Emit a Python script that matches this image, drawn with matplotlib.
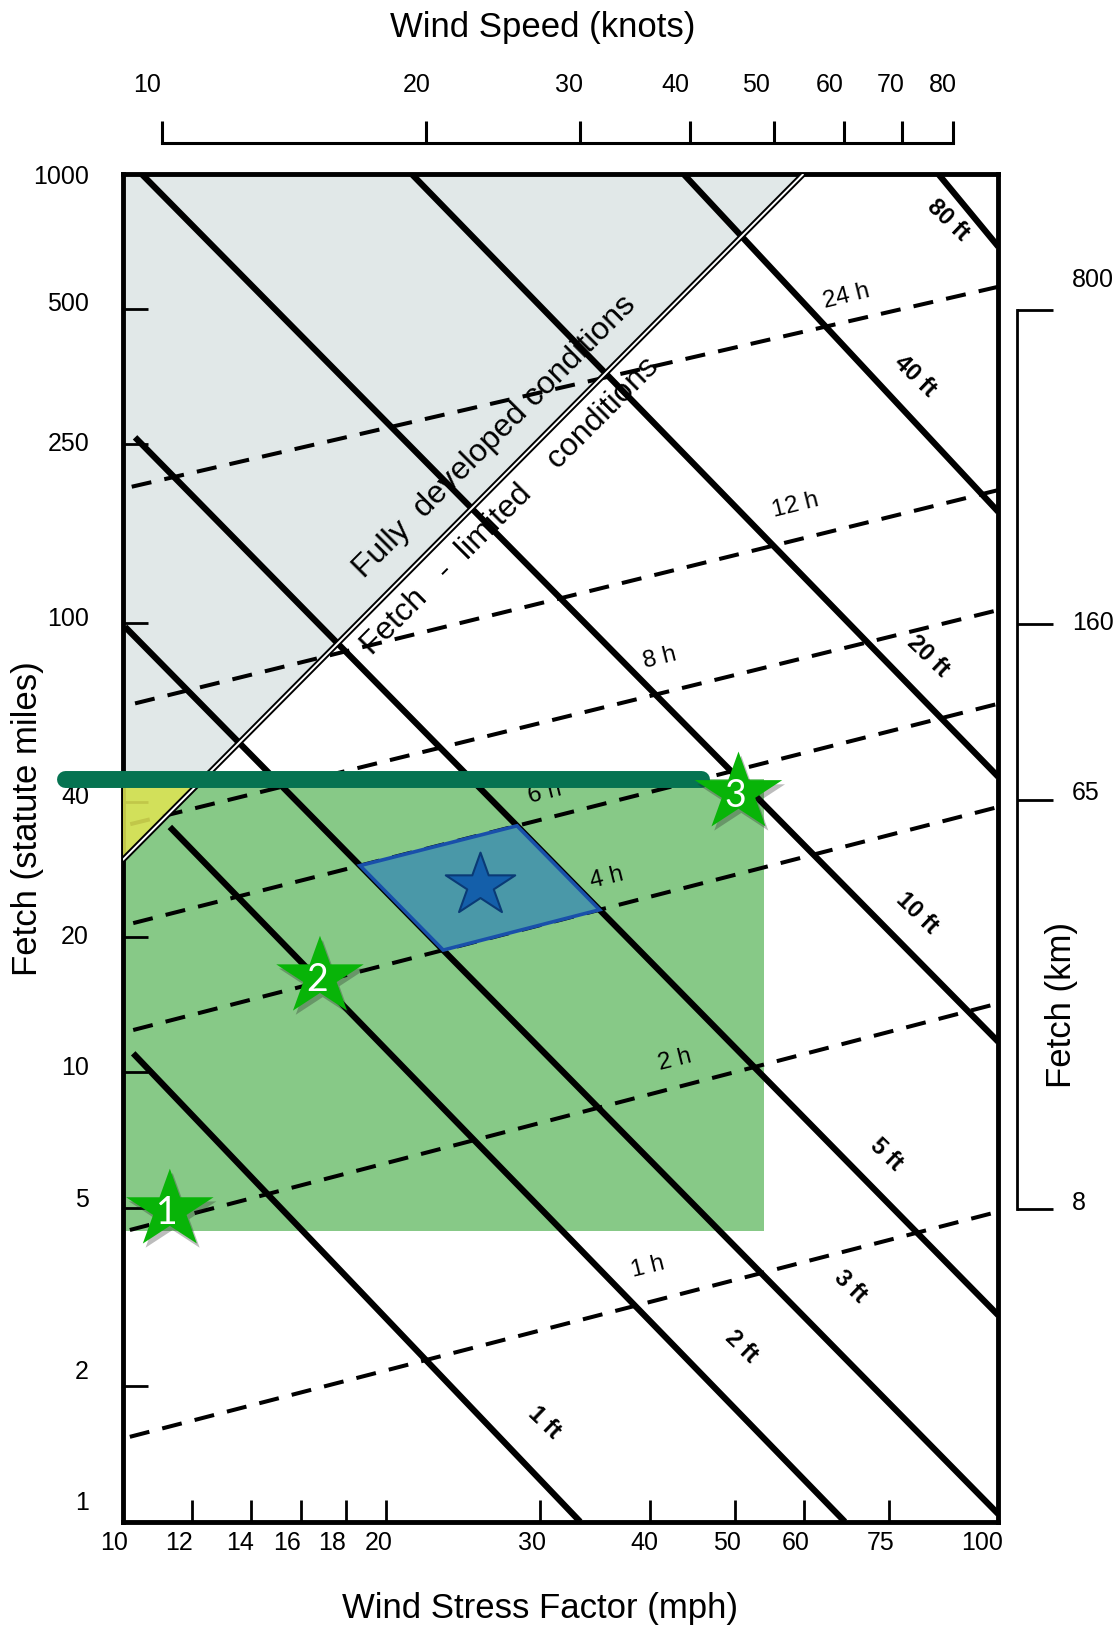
import numpy as np
import matplotlib
matplotlib.use("Agg")
import matplotlib.pyplot as plt
from matplotlib.transforms import ScaledTranslation, blended_transform_factory
from matplotlib.patches import Polygon
from matplotlib.path import Path
from matplotlib.ticker import NullLocator
import matplotlib.patheffects as pe

plt.rcParams['font.family'] = ['Liberation Sans', 'DejaVu Sans']

# ---------------- data ----------------
x_ticks = [10, 12, 14, 16, 18, 20, 30, 40, 50, 60, 75, 100]
y_ticks = [1, 2, 5, 10, 20, 40, 100, 250, 500, 1000]
knot_ticks = [10, 20, 30, 40, 50, 60, 70, 80]
km_ticks = [800, 160, 65, 8]

# wave-height lines (solid): start / end points (mph, statute miles)
height_labels = ['1 ft', '2 ft', '3 ft', '5 ft', '10 ft', '20 ft', '40 ft', '80 ft']
height_x0 = [10.28, 11.32, 10.06, 10.33, 10.51, 21.38, 43.7, 85.4]
height_y0 = [11.03, 35.2, 98.2, 259.3, 1000, 1000, 1000, 1000]
height_x1 = [33.3, 66.8, 100, 100, 100, 100, 100, 100]
height_y1 = [1.0, 1.0, 1.04, 2.88, 11.7, 45.5, 177, 689]

# duration lines (dashed)
duration_labels = ['1 h', '2 h', '4 h', '6 h', '8 h', '12 h', '24 h']
duration_x0 = [10.19, 10.19, 10.28, 10.28, 10.2, 10.33, 10.24]
duration_y0 = [1.545, 4.46, 12.43, 21.5, 35.7, 66.3, 201.3]
duration_x1 = [100, 100, 100, 100, 100, 100, 100]
duration_y1 = [4.9, 14.25, 39.0, 66.2, 107, 197.9, 561]

# fully developed / fetch limited boundary
boundary_x = [10, 59.9]
boundary_y = [29.7, 1000]

# highlighted study area
study_x = [10, 54.05]
study_y = [4.43, 45.1]
limit_line_x = [8.6, 45.8]
limit_line_y = 45.1

# sites
site_x = [11.32, 16.8, 50.5]
site_y = [4.94, 16.3, 41.9]
site_labels = ['1', '2', '3']
target_x = [25.6]
target_y = [26.2]

# ---------------- styling / layout ----------------
KT = 1.11          # axis position of one knot in mph units as drawn
KM_PER_MILE = 1.609

height_label_pos = [(0.4812, 0.0736), (0.7069, 0.1299), (0.8306, 0.1744), (0.8725, 0.2721),
                    (0.9068, 0.4514), (0.9201, 0.6418), (0.9049, 0.8496), (0.9429, 0.9659)]
duration_label_pos = [(0.6003, 0.1892), (0.6308, 0.3426), (0.5528, 0.4774), (0.4824, 0.5407),
                      (0.6136, 0.6406), (0.7678, 0.7544), (0.8269, 0.9090)]
xtick_dx = [-9, -13, -11, -14, -14, -8, -8, -5, -8, -8, -8, -16]
ytick_dy = [-19, -14, -8, -4, 0, -5, -4, 0, -5, 3]
knot_dx = [-15, -9, -11, -14, -18, -14, -12, -10]
km_dy = [-30, -1, -7, -6]

GRAY = '#E1E8E8'
GREEN = '#87C987'
YELLOW = '#DDE454'
BAR = '#067351'
STAR_GREEN = '#08B408'

fig = plt.figure(figsize=(11.2, 16.25), dpi=100)
ax = fig.add_axes([0.109554, 0.063569, 0.781786, 0.829354])
ax.set_xscale('log')
ax.set_yscale('log')
ax.set_xlim(10, 100)
ax.set_ylim(1, 1000)
ax.xaxis.set_minor_locator(NullLocator())
ax.yaxis.set_minor_locator(NullLocator())
ax.set_xticks(x_ticks)
ax.set_yticks(y_ticks)
ax.tick_params(axis='both', which='major', direction='in', width=2, color='k',
               labelbottom=False, labelleft=False)
ax.tick_params(axis='x', length=15.6)
ax.tick_params(axis='y', length=18)
for s in ax.spines.values():
    s.set_linewidth(3.5)

PX = 1 / 100.0
TICK_FS = 18


def off(dx, dy):
    return ScaledTranslation(dx * PX, dy * PX, fig.dpi_scale_trans)


def loglin(x0, y0, x1, y1):
    b = (np.log10(y1) - np.log10(y0)) / (np.log10(x1) - np.log10(x0))
    a = np.log10(y0) - b * np.log10(x0)
    return a, b


def intersect(l1, l2):
    a1, b1 = l1
    a2, b2 = l2
    lx = (a2 - a1) / (b1 - b2)
    return 10 ** lx, 10 ** (a1 + b1 * lx)


hl = [loglin(height_x0[i], height_y0[i], height_x1[i], height_y1[i]) for i in range(len(height_labels))]
dl = [loglin(duration_x0[i], duration_y0[i], duration_x1[i], duration_y1[i]) for i in range(len(duration_labels))]
bl = loglin(boundary_x[0], boundary_y[0], boundary_x[1], boundary_y[1])

# fully developed region
ax.add_patch(Polygon([(boundary_x[0], 1000), (boundary_x[1], 1000), (boundary_x[0], boundary_y[0])],
                     closed=True, fc=GRAY, ec='none', zorder=1))
# study area
ax.fill([study_x[0], study_x[1], study_x[1], study_x[0]],
        [study_y[0], study_y[0], study_y[1], study_y[1]], color=GREEN, lw=0, zorder=1.5)
# overlap of study area and fully developed region
bx_top = 10 ** ((np.log10(study_y[1]) - bl[0]) / bl[1])
ax.add_patch(Polygon([(study_x[0], study_y[1]), (bx_top, study_y[1]), (boundary_x[0], boundary_y[0])],
                     closed=True, fc=YELLOW, ec='none', alpha=0.88, zorder=3.6))

# wave height lines
for i in range(len(height_labels)):
    ax.plot([height_x0[i], height_x1[i]], [height_y0[i], height_y1[i]], color='k', lw=4.5,
            solid_capstyle='butt', zorder=3)
    fx, fy = height_label_pos[i]
    ax.text(fx, fy, height_labels[i], transform=ax.transAxes, rotation=-44, rotation_mode='anchor',
            ha='center', va='center', fontsize=17, fontweight='bold', zorder=3.2)

# duration lines
for i in range(len(duration_labels)):
    ax.plot([duration_x0[i], duration_x1[i]], [duration_y0[i], duration_y1[i]], color='k', lw=2.9,
            dashes=(5, 3.3), dash_capstyle='butt', zorder=3)
    fx, fy = duration_label_pos[i]
    ax.text(fx, fy, duration_labels[i], transform=ax.transAxes, rotation=14, rotation_mode='anchor',
            ha='center', va='center', fontsize=17.5, zorder=3.2)

# boundary (double line)
ax.plot(boundary_x, boundary_y, color='k', lw=4.2, solid_capstyle='butt', zorder=3.7)
ax.plot(boundary_x, boundary_y, color='white', lw=1.4, solid_capstyle='butt', zorder=3.8)

ax.text(0.4252, 0.8051, 'Fully  developed conditions', transform=ax.transAxes, rotation=45,
        rotation_mode='anchor', ha='center', va='center', fontsize=23, zorder=3.3)
ax.text(0.4423, 0.7537, 'Fetch   -  limited    conditions', transform=ax.transAxes, rotation=45,
        rotation_mode='anchor', ha='center', va='center', fontsize=23, zorder=3.3)

# target parallelogram: 3-5 ft, 4-6 h
tl = intersect(hl[2], dl[3])
tr = intersect(hl[3], dl[3])
br = intersect(hl[3], dl[2])
blc = intersect(hl[2], dl[2])
ax.add_patch(Polygon([tl, tr, br, blc], closed=True, fc='#4A98A8', ec='#1950AA', lw=2.6, zorder=4))

# star marker
sq = 0.9
verts = []
for k in range(5):
    ao = np.deg2rad(90 + 72 * k)
    ai = np.deg2rad(90 + 36 + 72 * k)
    verts.append((np.cos(ao), np.sin(ao) * sq))
    verts.append((0.382 * np.cos(ai), 0.382 * np.sin(ai) * sq))
verts.append(verts[0])
star = Path(verts, closed=True)

ax.plot(target_x, target_y, ls='none', marker=star, ms=50, mfc='#145FAA', mec='#0A3A75', mew=1.5,
        zorder=4.5)

# fetch limit bar
ax.plot(limit_line_x, [limit_line_y, limit_line_y], color=BAR, lw=12.2, solid_capstyle='round',
        zorder=5, clip_on=False)

# sites
ax.plot(site_x, site_y, ls='none', marker=star, ms=63, mfc=STAR_GREEN, mec='none', zorder=6,
        path_effects=[pe.SimplePatchShadow(offset=(2, -3), shadow_rgbFace='#222222', alpha=0.3),
                      pe.Normal()])
for x, y, lab in zip(site_x, site_y, site_labels):
    ax.text(x, y, lab, transform=ax.transData + off(-3, -3), ha='center', va='center',
            fontsize=27, color='white', family=['Lato', 'DejaVu Sans'], zorder=7)

# bottom tick labels
xt = blended_transform_factory(ax.transData, ax.transAxes)
for v, dx in zip(x_ticks, xtick_dx):
    ax.text(v, 0, str(v), transform=xt + off(dx, -21.6), ha='center', va='center', fontsize=TICK_FS)
# left tick labels
yt = blended_transform_factory(ax.transAxes, ax.transData)
for v, dy in zip(y_ticks, ytick_dy):
    ax.text(0, v, str(v), transform=yt + off(-33.7, -dy), ha='right', va='center', fontsize=TICK_FS)

# top knots axis
y_line = (1521.7 - 142.7) / 1347.7
y_tick_top = (1521.7 - 120.7) / 1347.7
y_klab = (1521.7 - 85) / 1347.7
kx = [k * KT for k in knot_ticks]
ax.plot([kx[0], kx[-1]], [y_line, y_line], transform=xt, color='k', lw=2.2, clip_on=False,
        solid_capstyle='projecting')
for x, k, dx in zip(kx, knot_ticks, knot_dx):
    ax.plot([x, x], [y_line, y_tick_top], transform=xt, color='k', lw=2.2, clip_on=False,
            solid_capstyle='butt')
    ax.text(x, y_klab, str(k), transform=xt + off(dx, 0), ha='center', va='center', fontsize=TICK_FS)

# right km bracket
x_bar = (1016.5 - 122.7) / 875.6
x_tick_end = (1053 - 122.7) / 875.6
x_lab = (1072 - 122.7) / 875.6
km_miles = [k / KM_PER_MILE for k in km_ticks]
ax.plot([x_bar, x_bar], [km_miles[0], km_miles[-1]], transform=yt, color='k', lw=2, clip_on=False,
        solid_capstyle='projecting')
for m, k, dy in zip(km_miles, km_ticks, km_dy):
    ax.plot([x_bar, x_tick_end], [m, m], transform=yt, color='k', lw=2, clip_on=False,
            solid_capstyle='butt')
    ax.text(x_lab, m, str(k), transform=yt + off(0, -dy), ha='left', va='center', fontsize=TICK_FS)

# axis titles
fig.text(542.5 / 1120, 1 - 37 / 1625, 'Wind Speed (knots)', ha='center', va='baseline', fontsize=25)
fig.text(540 / 1120, 1 - 1618 / 1625, 'Wind Stress Factor (mph)', ha='center', va='baseline', fontsize=25)
fig.text(37.5 / 1120, 1 - 818.5 / 1625, 'Fetch (statute miles)', rotation=90, rotation_mode='anchor',
         ha='center', va='baseline', fontsize=25)
fig.text(1071 / 1120, 1 - 1005 / 1625, 'Fetch (km)', rotation=90, rotation_mode='anchor',
         ha='center', va='baseline', fontsize=25)

ax.set_xlim(10, 100)
ax.set_ylim(1, 1000)
fig.savefig('out.png', dpi=100)
